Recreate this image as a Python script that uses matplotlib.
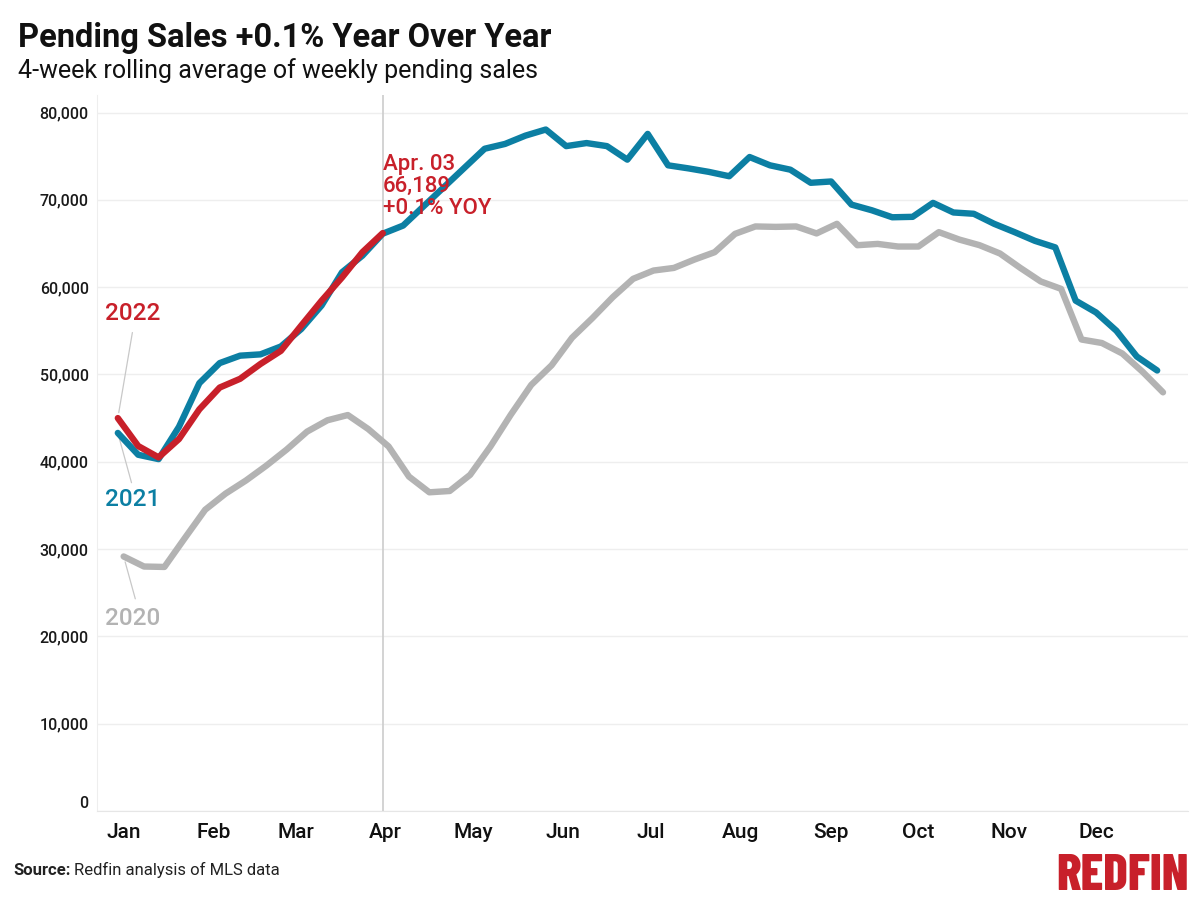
import matplotlib
matplotlib.use("Agg")
import matplotlib.pyplot as plt
import pandas as pd
from matplotlib.transforms import offset_copy

# weekly pending sales, 4-week rolling average
sales_2022 = [45000, 41800, 40500, 42600, 46000, 48500, 49500, 51200, 52700, 55600,
              58450, 61100, 64000, 66189]
sales_2021 = [43300, 40800, 40300, 44000, 49000, 51300, 52150, 52300, 53200, 55200,
              57900, 61700, 63600, 66120, 67050, 69250, 71450, 73650, 75850, 76400,
              77350, 78050, 76150, 76500, 76150, 74600, 77550, 73950, 73600, 73200,
              72700, 74900, 73950, 73450, 71950, 72100, 69450, 68800, 68000, 68050,
              69650, 68550, 68400, 67250, 66300, 65300, 64550, 58450, 57100, 55000,
              52050, 50450]
sales_2020 = [29150, 28000, 27950, 31250, 34500, 36350, 37850, 39550, 41400, 43450,
              44750, 45350, 43750, 41750, 38300, 36500, 36650, 38500, 41750, 45400,
              48800, 51050, 54200, 56450, 58850, 60950, 61900, 62200, 63150, 64000,
              66100, 66950, 66900, 66950, 66150, 67250, 64800, 64950, 64650, 64650,
              66300, 65450, 64800, 63850, 62200, 60650, 59800, 54000, 53600, 52400,
              50300, 47950]

# all years drawn on the 2022 calendar, same week of the year
weeks_2022 = pd.date_range("2022-01-02", periods=len(sales_2022), freq="7D")
weeks_2021 = pd.date_range("2022-01-02", periods=len(sales_2021), freq="7D")
weeks_2020 = pd.date_range("2022-01-04", periods=len(sales_2020), freq="7D")

month_labels = ["Jan", "Feb", "Mar", "Apr", "May", "Jun", "Jul", "Aug", "Sep", "Oct", "Nov", "Dec"]
month_ticks = pd.date_range("2022-01-01", periods=12, freq="MS") + pd.Timedelta(days=3)
y_ticks = [0, 10000, 20000, 30000, 40000, 50000, 60000, 70000, 80000]

RED = "#C8202A"
TEAL = "#0C7FA3"
GRAY = "#B3B3B3"
LEADER = "#c8c8c8"

plt.rcParams["font.family"] = ["Roboto", "DejaVu Sans"]

fig = plt.figure(figsize=(12, 9), dpi=100)
ax = fig.add_axes([0.0808, 0.0989, 0.9092, 0.7955])

line_kw = dict(linewidth=4.6, solid_capstyle="round", solid_joinstyle="round")
ax.plot(weeks_2020, sales_2020, color=GRAY, zorder=3, **line_kw)
ax.plot(weeks_2021, sales_2021, color=TEAL, zorder=4, **line_kw)
ax.plot(weeks_2022, sales_2022, color=RED, zorder=5, **line_kw)

# current week marker
ax.axvline(weeks_2022[-1], color="#d0d0d0", linewidth=1.3, zorder=1)
ax.text(weeks_2022[-1], 75300, "Apr. 03\n66,189\n+0.1% YOY", color=RED,
        fontsize=16, fontweight="medium", ha="left", va="top", linespacing=1.08, zorder=6)

# year labels with leader lines
d0 = weeks_2022[0]
ax.text(d0 - pd.Timedelta(days=4.5), 57000, "2022", color=RED, fontsize=17.5, fontweight="medium",
        ha="left", va="center")
ax.annotate("", xy=(weeks_2022[0], sales_2022[0]), xytext=(d0 + pd.Timedelta(days=5), 54800),
            arrowprops=dict(arrowstyle="-", color=LEADER, lw=0.9, shrinkA=0, shrinkB=4))
ax.text(d0 - pd.Timedelta(days=4.5), 35650, "2021", color=TEAL, fontsize=17.5, fontweight="medium",
        ha="left", va="center")
ax.annotate("", xy=(weeks_2021[0], sales_2021[0]), xytext=(d0 + pd.Timedelta(days=4.7), 37600),
            arrowprops=dict(arrowstyle="-", color=LEADER, lw=0.9, shrinkA=0, shrinkB=4))
ax.text(d0 - pd.Timedelta(days=4.5), 22100, "2020", color=GRAY, fontsize=17.5, fontweight="medium",
        ha="left", va="center")
ax.annotate("", xy=(weeks_2020[0], sales_2020[0]), xytext=(d0 + pd.Timedelta(days=6), 24300),
            arrowprops=dict(arrowstyle="-", color=LEADER, lw=0.9, shrinkA=0, shrinkB=4))

ax.set_xlim(pd.Timestamp("2021-12-25 20:00"), pd.Timestamp("2023-01-04 14:00"))
ax.set_ylim(0, 82000)
ax.set_yticks(y_ticks)
ax.set_yticklabels([f"{v:,}" for v in y_ticks])
ax.set_xticks(month_ticks)
ax.set_xticklabels(month_labels)
ax.yaxis.get_ticklabels()[0].set_va("bottom")

ax.grid(axis="y", color="#eeeeee", linewidth=1)
ax.set_axisbelow(True)
for side in ["top", "right"]:
    ax.spines[side].set_visible(False)
ax.spines["left"].set_color("#eeeeee")
ax.spines["bottom"].set_color("#e6e6e6")
ax.tick_params(axis="both", length=0)
ax.tick_params(axis="y", labelsize=11.5, labelcolor="#1a1a1a", pad=6)
ax.tick_params(axis="x", labelsize=15, labelcolor="#111111", pad=9)
for lbl in ax.get_xticklabels() + ax.get_yticklabels():
    lbl.set_fontweight("medium")

fig.text(0.015, 0.958, "Pending Sales +0.1% Year Over Year", fontsize=23.5, fontweight="bold",
         color="#111111", ha="left", va="center")
fig.text(0.015, 0.922, "4-week rolling average of weekly pending sales", fontsize=18,
         color="#111111", ha="left", va="center")
src = fig.text(0.011, 0.033, "Source:", fontsize=12, fontweight="bold", color="#222222",
               ha="left", va="center")
fig.canvas.draw()
src_w = src.get_window_extent().width
fig.text(0.011, 0.033, "Redfin analysis of MLS data", fontsize=12, color="#222222", ha="left", va="center",
         transform=offset_copy(fig.transFigure, fig=fig, x=src_w + 3, y=0, units="dots"))
fig.text(0.991, 0.026, "REDFIN", fontsize=37, fontweight=800, color=RED, ha="right", va="center",
         family="Barlow Condensed")

fig.savefig("out.png", dpi=100)
